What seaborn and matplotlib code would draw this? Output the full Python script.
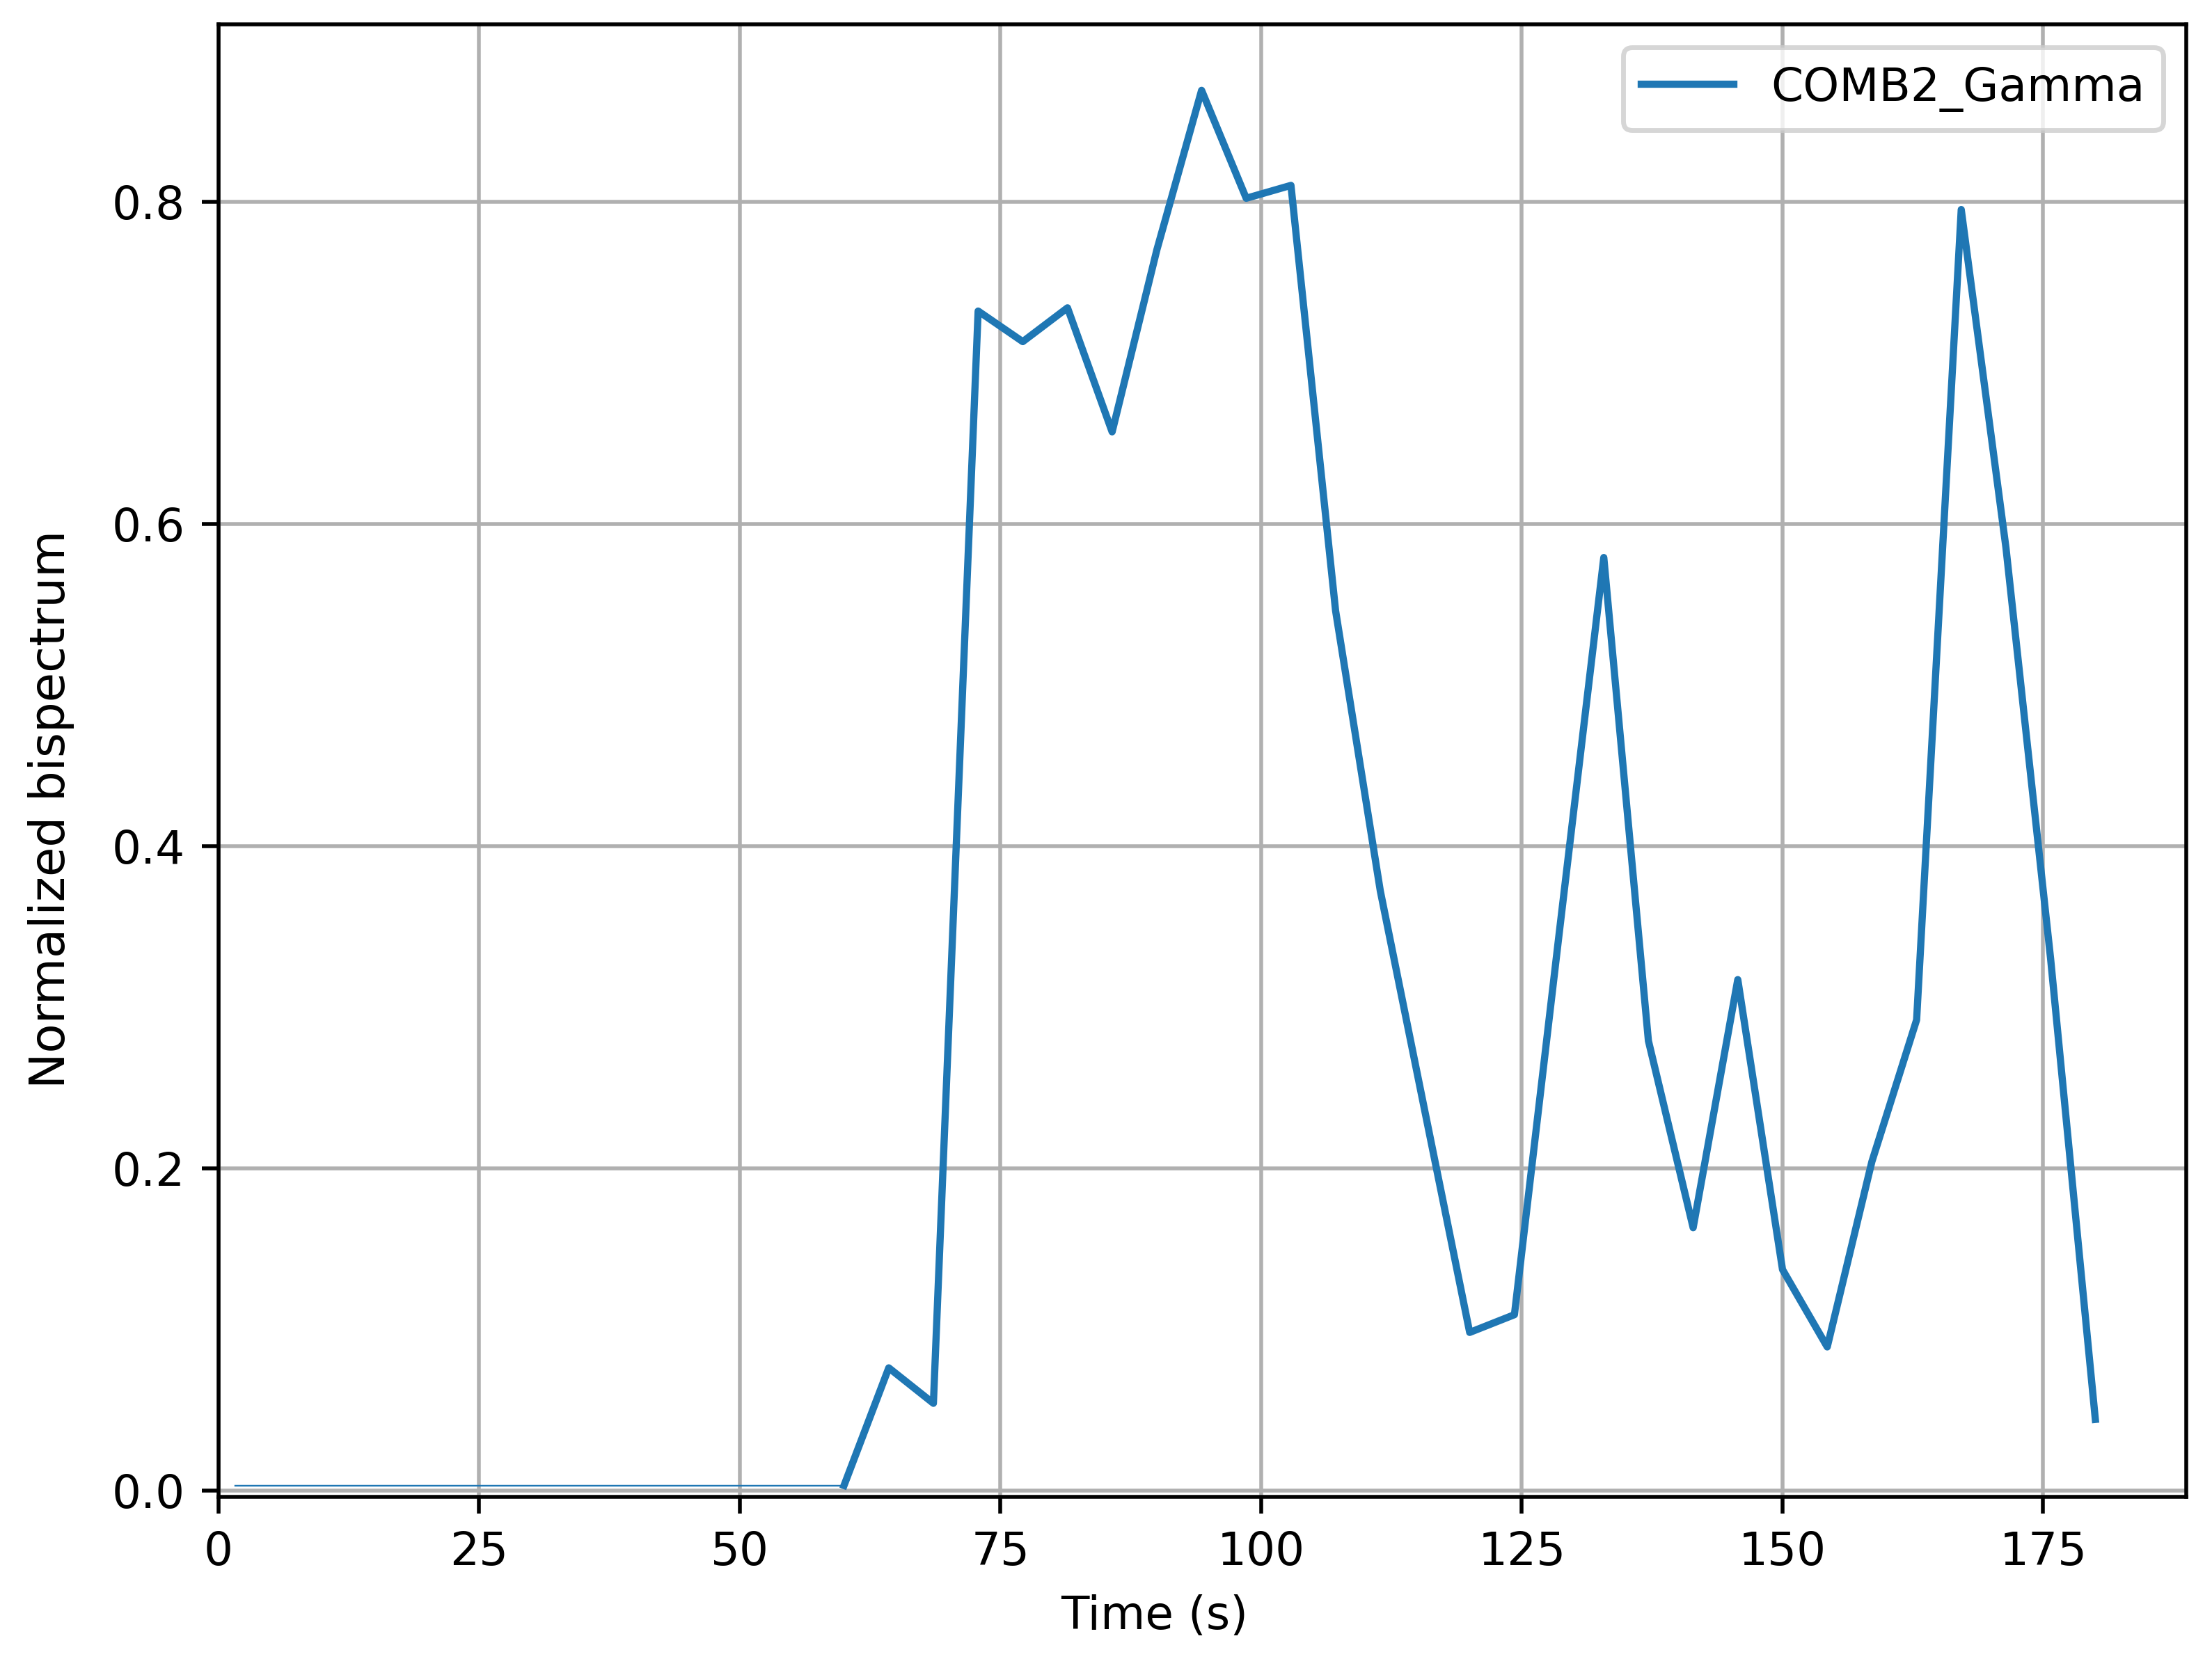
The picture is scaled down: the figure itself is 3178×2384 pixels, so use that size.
import matplotlib
matplotlib.use("Agg")
import matplotlib.pyplot as plt
import seaborn as sns
import pandas as pd

# ---- data ----
baseline_time = [1.6, 60.0]
baseline_value = [0.003, 0.003]

time_s = [60.0, 64.29, 68.57, 72.86, 77.14, 81.43, 85.71, 90.0, 94.29, 98.57,
          102.86, 107.14, 111.43, 115.71, 120.0, 124.29, 128.57, 132.86, 137.14,
          141.43, 145.71, 150.0, 154.29, 158.57, 162.86, 167.14, 171.43, 175.71, 180.0]
bispectrum = [0.003, 0.076, 0.054, 0.732, 0.713, 0.734, 0.657, 0.770, 0.869, 0.802,
              0.810, 0.546, 0.372, 0.235, 0.098, 0.109, 0.345, 0.579, 0.279,
              0.163, 0.317, 0.137, 0.089, 0.204, 0.292, 0.795, 0.585, 0.330, 0.044]
series_name = "COMB2_Gamma"
x_ticks = [0, 25, 50, 75, 100, 125, 150, 175]
y_ticks = [0.0, 0.2, 0.4, 0.6, 0.8]

plt.rcParams.update(plt.rcParamsDefault)
plt.rcParams['font.family'] = ['DejaVu Sans']
plt.rcParams['font.size'] = 9.6

df = pd.DataFrame({"Time (s)": time_s, "Normalized bispectrum": bispectrum,
                   "series": [series_name] * len(time_s)})
df_base = pd.DataFrame({"Time (s)": baseline_time, "Normalized bispectrum": baseline_value})

fig, ax = plt.subplots(figsize=(6.4, 4.8), dpi=496.7)
fig.subplots_adjust(left=0.0987, right=0.9880, bottom=0.0978, top=0.9853)

color = "#1f77b4"
sns.lineplot(data=df_base, x="Time (s)", y="Normalized bispectrum", ax=ax,
             color=color, linewidth=0.35, legend=False)
sns.lineplot(data=df, x="Time (s)", y="Normalized bispectrum", hue="series",
             palette=[color], ax=ax, linewidth=1.5)

ax.set_xlim(0, 188.7)
ax.set_ylim(-0.004, 0.910)
ax.set_xticks(x_ticks)
ax.set_yticks(y_ticks)
ax.grid(True, color="#b0b0b0", linewidth=0.8)
ax.set_axisbelow(True)
ax.set_xlabel("Time (s)", fontsize=9.6)
ax.set_ylabel("Normalized bispectrum", fontsize=10)
ax.xaxis.set_label_coords(0.4756, -0.066)
ax.yaxis.set_label_coords(-0.073, 0.467)
ax.legend(loc="upper right", title=None)

fig.savefig("out.png", dpi=496.7)
